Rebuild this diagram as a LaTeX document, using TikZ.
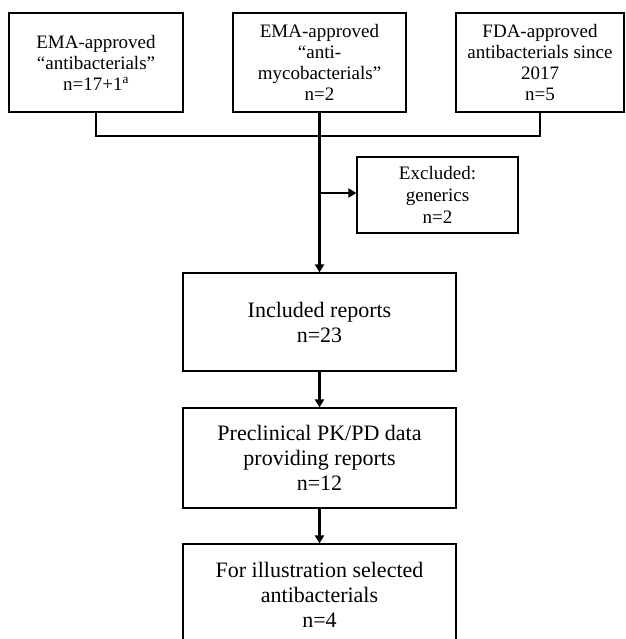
\documentclass[tikz,border=0pt]{standalone}
\usepackage{fontspec}
\setmainfont{Liberation Serif}
\usetikzlibrary{arrows.meta}
\begin{document}
\begin{tikzpicture}[x=1pt,y=-1pt,
  box/.style={draw=black,line width=1.2pt,align=center,inner sep=0pt,text=black},
  topbox/.style={box,font=\fontsize{19}{21}\selectfont},
  exbox/.style={box,font=\fontsize{19}{22}\selectfont},
  mainbox/.style={box,font=\fontsize{22}{25}\selectfont},
  conn/.style={line width=2.6pt,draw=black},
  arr/.style={conn,-{Triangle[length=8pt,width=9pt]}}]
\path[use as bounding box] (0,0) rectangle (625,639);
\clip (0,0) rectangle (625,639);
\node[topbox,minimum width=174pt,minimum height=99pt] (b1) at (96,62.5)
  {EMA-approved\\“antibacterials”\\n=17+1\textsuperscript{a}};
\node[topbox,minimum width=173pt,minimum height=99pt] (b2) at (319.5,62.5)
  {EMA-approved\\“anti-\\mycobacterials”\\n=2};
\node[topbox,minimum width=168pt,minimum height=99pt] (b3) at (540,62.5)
  {FDA-approved\\antibacterials since\\2017\\n=5};
\node[exbox,minimum width=161pt,minimum height=76pt] (ex) at (437.5,195)
  {Excluded:\\generics\\n=2};
\node[mainbox,minimum width=273pt,minimum height=98pt] (inc) at (319.5,322)
  {Included reports\\n=23};
\node[mainbox,minimum width=273pt,minimum height=100pt] (pre) at (319.5,458)
  {Preclinical PK/PD data\\providing reports\\n=12};
\node[mainbox,minimum width=273pt,minimum height=102pt] (fin) at (319.5,595)
  {For illustration selected\\antibacterials\\n=4};
\coordinate (j) at (320,136);
\coordinate (br) at (320,193);
\draw[conn] (b1.south) |- (j);
\draw[conn] (b3.south) |- (j);
\draw[arr] (b2.south) -- (inc.north);
\draw[arr] (br) -- (br -| ex.west);
\draw[arr] (inc.south) -- (pre.north);
\draw[arr] (pre.south) -- (fin.north);
\end{tikzpicture}
\end{document}
